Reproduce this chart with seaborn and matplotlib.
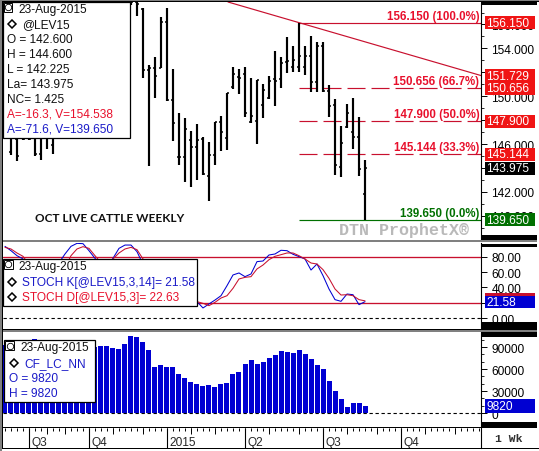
#!/usr/bin/env python3
# Oct live cattle weekly chart: price bars, stochastics and volume panels
import numpy as np
import pandas as pd
import matplotlib
matplotlib.use("Agg")
import matplotlib.pyplot as plt
from matplotlib.patches import Rectangle
import seaborn as sns

nan = np.nan

# price bars, one per week. nan = hidden behind the info box
high = [nan, 148, 148, 148, 148, 148, 148, 148, 148, nan, nan, nan, nan, nan, nan, nan, nan, nan, nan, nan, nan,
        158.5, 158.3, 157.35, 152.64, 153.26, 156.6, 157.35, 152.28, 148.6, 148.16, 147.07, 147.68, 146.57, 146.15,
        147.87, 148.32, 150.25, 152.47, 152.28, 152.42, 151.52, 151.36, 151.02, 151.72, 153.76, 153.26, 154.93,
        154.17, 156.15, 154.22, 155.06, 154.51, 154.51, 150.94, 149.77, 147.54, 149.35, 149.83, 148.24, 144.67]
low = [nan, 145.09, 144.59, 146.3, 146.3, 145.0, 144.7, 145.6, 145.17, nan, nan, nan, nan, nan, nan, nan, nan, nan, nan, nan, nan,
       157.63, 156.73, 151.55, 144.19, 149.83, 152.34, 149.58, 146.28, 144.28, 142.8, 142.39, 143.02, 143.41, 141.27,
       144.28, 145.45, 145.53, 150.6, 150.19, 148.24, 147.76, 146.0, 148.18, 149.77, 149.21, 150.66, 151.94,
       152.05, 152.05, 151.78, 150.33, 150.33, 150.33, 148.29, 143.44, 143.27, 147.34, 145.59, 143.36, 139.65]
open_ = [nan, 145.31, 146.4, 147, 147, 147, 145.2, 147, 145.9, nan, nan, nan, nan, nan, nan, nan, nan, nan, nan, nan, nan,
         158.2, 157.9, 157.3, 152.22, 152.34, 152.34, 156.23, 149.69, 144.89, 144.92, 146.37, 145.76, 146.43, 143.31,
         145.09, 147.82, 146.48, 150.75, 151.63, 151.86, 147.85, 147.95, 149.29, 149.85, 151.44, 151.44, 152.84,
         152.42, 152.42, 152.42, 153.34, 151.17, 154.18, 150.46, 149.27, 144.11, 147.4, 146.98, 146.62, 141.85]
close = [nan, 146.5, 145.0, 146.4, 146.4, 145.17, 146.5, 146.5, 147, nan, nan, nan, nan, nan, nan, nan, nan, nan, nan, nan, nan,
         157.9, 157.71, 152.22, 152.32, 151.67, 156.23, 149.71, 147.76, 144.92, 147.26, 145.76, 146.37, 143.5, 145.09,
         147.87, 146.98, 150.25, 151.86, 151.52, 148.6, 148.37, 151.36, 150.52, 151.3, 151.3, 152.78, 152.97,
         153.05, 153.34, 153.34, 151.17, 154.18, 150.46, 149.21, 144.25, 146.07, 148.6, 146.62, 143.92, 143.975]

stoch_k = [93.3, 87.7, 81.2, 77, 60, 50, 45, 45, 50, 72, 83.4, 93.3, 97.2, 96.8, 87.7, 77.8, 68, 66, 77.8, 90.7, 95,
           95, 86.4, 70, 60, 40, 30, 25, 25, 22, 20, 20, 21.6, 13.4, 18.6, 23.7, 29.3, 42.3, 56.2, 58.8, 54, 57.5,
           73.5, 74.3, 82.1, 83.4, 88.2, 87.7, 83, 80, 76.9, 62.6, 70.4, 55.3, 38, 24.2, 22, 31.5, 30.6, 17.7, 21.58]
stoch_d = [92, 89.9, 84.7, 80.4, 70, 60, 52, 47, 47, 52, 65, 81.2, 89.9, 92.9, 90.7, 81.2, 72, 68, 76.9, 84.7, 89.9,
           92, 89, 77, 68, 52, 40, 32, 28, 25, 22, 21, 21.6, 19.4, 16.4, 20.7, 26.3, 29.3, 38.9, 51, 53.1, 54,
           64, 69.1, 76, 80.4, 82.5, 84.7, 84.7, 81.2, 76.9, 71.7, 70.4, 63.1, 51.8, 38, 30.2, 30.6, 29.3, 24.2, 22.63]

volume = [93000, 85000, 85000, 90000, 90000, 101000, 95000, 90000, 85000, 85000, 85000, 85000, 85000, 85000, 85000, 90000,
          90900, 91850, 88700, 87300, 94600, 105500, 104100, 96850, 86400, 62750, 65900, 62300, 63200, 53650, 48200,
          42700, 40000, 37300, 38650, 35900, 40000, 41400, 53650, 56400, 67300, 72750, 67300, 70000, 75500, 79600,
          85000, 83700, 82300, 86400, 80900, 74100, 65900, 60500, 44100, 30500, 19550, 8640, 14100, 14100, 9820]

fib_levels = [156.15, 150.656, 147.9, 145.144, 139.65]
fib_labels = ["156.150 (100.0%)", "150.656 (66.7%)", "147.900 (50.0%)", "145.144 (33.3%)", "139.650 (0.0%)"]
trend_x = [37.17, 79.33]
trend_y = [157.88, 151.729]

quarter_pos = [4, 14, 27, 40, 53, 66]
quarter_labels = ["Q3", "Q4", "2015", "Q2", "Q3", "Q4"]
month_pos = [7, 10, 18, 23, 31, 35, 44, 49, 57, 62, 70, 75]

price_info = ["O = 142.600", "H = 144.600", "L = 142.225", "La= 143.975", "NC= 1.425"]

RED = "#c8102e"
TXT_RED = "#e8102c"
BLUE = "#0000d2"
TXT_BLUE = "#1a1ac8"
GREEN = "#007000"
GRAY = "#808080"
FS = 8.6

W, H = 539, 452
sns.set_style("white")
plt.rcParams["font.family"] = ["Liberation Sans", "DejaVu Sans"]
plt.rcParams["font.size"] = FS


def panel(top, bottom):
    # axes placed by pixel rows, all share the same horizontal extent
    a = fig.add_axes([3 / W, 1 - bottom / H, 478 / W, (bottom - top) / H])
    a.set_xlim(-0.33, 79.33)
    a.set_xticks([])
    for s in ["top", "left", "bottom"]:
        a.spines[s].set_visible(False)
    a.spines["right"].set_color("black")
    a.spines["right"].set_linewidth(0.8)
    a.set_xlabel("")
    a.set_ylabel("")
    return a


def right_ticks(a, major, labels, minor=None):
    a.yaxis.tick_right()
    a.set_yticks(major)
    a.set_yticklabels(labels)
    if minor is not None:
        a.set_yticks(minor, minor=True)
    a.tick_params(axis="y", which="major", right=True, length=4, width=0.7, pad=3.5, labelsize=FS, colors="black")
    a.tick_params(axis="y", which="minor", right=True, length=2, width=0.7)


def value_box(a, val, text, color, h_px=13):
    # coloured tag on the right scale, centred on the value
    y0, y1 = a.get_ylim()
    bbox = a.get_position()
    per_px = (y1 - y0) / (bbox.height * H)
    tr = a.get_yaxis_transform()
    xl = 1 + 4 / 478
    a.add_patch(Rectangle((xl, val - h_px / 2 * per_px), 49.5 / 478, h_px * per_px, transform=tr,
                          facecolor=color, edgecolor="none", clip_on=False, zorder=6))
    if text:
        a.text(xl + 1.5 / 478, val, text, transform=tr, color="white", fontsize=FS, va="center", ha="left",
               clip_on=False, zorder=7)


fig = plt.figure(figsize=(W / 100, H / 100), dpi=100)

# price panel
ax = panel(3, 240)
ax.set_ylim(138.06, 157.88)
xs = np.arange(len(high))
ax.vlines(xs, low, high, color="black", lw=1.55, zorder=3)
ax.hlines(open_, xs - 0.38, xs, color="black", lw=1.1, zorder=3)
ax.hlines(close, xs, xs + 0.38, color="black", lw=1.1, zorder=3)
ax.plot(trend_x, trend_y, color=RED, lw=0.85, zorder=2)
fib_start = 49
ax.hlines(fib_levels[0], fib_start, 79.33, color=RED, lw=0.85)
for lv in fib_levels[1:4]:
    ax.plot([fib_start, 79.33], [lv, lv], color=RED, lw=0.85, dashes=(18 / 1.18, 6 / 1.18), zorder=2)
ax.hlines(fib_levels[4], fib_start, 79.33, color=GREEN, lw=0.85)
for lv, lab in zip(fib_levels, fib_labels):
    ax.annotate(lab, (79.33, lv), xytext=(-1.2, 5.0), textcoords="offset points", ha="right", va="center",
                fontsize=8.3, fontweight="bold", color=GREEN if lv == fib_levels[4] else TXT_RED)
right_ticks(ax, np.arange(140, 157, 2), [f"{v:.3f}" for v in np.arange(140, 157, 2)], np.arange(139, 158, 1))
value_box(ax, fib_levels[0], f"{fib_levels[0]:.3f}", "#f01414")
value_box(ax, trend_y[1], f"{trend_y[1]:.3f}", "#f01414")
for lv in fib_levels[1:4]:
    value_box(ax, lv, f"{lv:.3f}", "#f01414")
value_box(ax, close[-1], f"{close[-1]:.3f}", "black")
value_box(ax, fib_levels[4], f"{fib_levels[4]:.3f}", GREEN)

# stochastics panel
ax2 = panel(243.5, 330)
stoch_df = pd.DataFrame({"week": xs, "k": stoch_k, "d": stoch_d})
sns.lineplot(data=stoch_df, x="week", y="k", color=BLUE, lw=0.75, ax=ax2, zorder=3)
sns.lineplot(data=stoch_df, x="week", y="d", color=RED, lw=0.75, ax=ax2, zorder=3)
ax2.set_xlim(-0.33, 79.33)
ax2.set_xticks([])
ax2.set_ylim(-13.88, 98.3)
ax2.set_xlabel("")
ax2.set_ylabel("")
ax2.axhline(80, color=RED, lw=0.95, zorder=2)
ax2.axhline(20, color=RED, lw=0.95, zorder=2)
ax2.axhline(0, color="black", lw=0.8, dashes=(3, 2.4))
right_ticks(ax2, [0, 20, 40, 60, 80], ["0.00", "20.00", "40.00", "60.00", "80.00"])
value_box(ax2, stoch_d[-1] + 1, "", RED, h_px=14)
value_box(ax2, stoch_k[-1], "21.58", BLUE, h_px=12)

# volume panel
ax3 = panel(332.5, 427.5)
vol_df = pd.DataFrame({"week": xs, "volume": volume})
sns.barplot(data=vol_df, x="week", y="volume", native_scale=True, color=BLUE, saturation=1, width=5 / 6,
            edgecolor="none", linewidth=0, ax=ax3, zorder=3)
ax3.set_xlim(-0.33, 79.33)
ax3.set_xticks([])
ax3.set_ylim(-18140, 111200)
ax3.set_xlabel("")
ax3.set_ylabel("")
ax3.axhline(0, color="black", lw=0.8, dashes=(3, 2.4))
right_ticks(ax3, [0, 30000, 60000, 90000], ["0", "30000", "60000", "90000"], np.arange(0, 110000, 10000))
value_box(ax3, volume[-1], "9820", BLUE, h_px=14)

# date strip
ax4 = panel(428.5, 449)
ax4.set_ylim(0, 1)
ax4.set_yticks([])
ax4.vlines(np.arange(0, 80), 0.85, 1, color="black", lw=0.7)
ax4.vlines(month_pos, 0.68, 1, color="black", lw=0.7)
ax4.vlines(quarter_pos, 0, 1, color="black", lw=0.8)
for q, lab in zip(quarter_pos, quarter_labels):
    ax4.text(q + 0.42, 0.28, lab, va="center", ha="left", fontsize=FS)

# overlay in pixel rows for frame, separators and info boxes
ov = fig.add_axes([0, 0, 1, 1], zorder=10)
ov.set_xlim(0, W)
ov.set_ylim(H, 0)
ov.axis("off")
ov.patch.set_alpha(0)


def rect(x0, y0, x1, y1, fc="white", ec="none", lw=0.0, z=2):
    ov.add_patch(Rectangle((x0, y0), x1 - x0, y1 - y0, facecolor=fc, edgecolor=ec, linewidth=lw, zorder=z))


# outer frame
rect(0, 0, W, 2, fc=GRAY)
rect(0, 0, 2, H, fc=GRAY)
rect(2, 2, 3, 450, fc="black")
rect(2, 2, W, 3, fc="black")
rect(3, 449, W, 450, fc="black")

# panel separators and black bands in the scale column
for top, bot in [(240.5, 243), (330, 332.5)]:
    rect(3, top, W - 2, top + 0.8, fc="black")
    rect(3, top + 0.8, W - 2, bot, fc=GRAY)
rect(3, 427.8, W - 2, 428.6, fc="black")
for top, bot in [(3, 6), (236, 240.5), (245, 248), (323, 330), (333, 338), (423, 427.8)]:
    rect(481, top, W - 2, bot, fc="black")
rect(481, 428, 481.8, 449, fc="black")

ov.text(495, 439, "1 Wk", family=["Liberation Mono", "DejaVu Sans Mono"], fontsize=8.2, fontweight="bold",
        va="center", ha="left", color="#303030")
ov.text(339, 230.5, "DTN ProphetX\u00ae", family=["Liberation Mono", "DejaVu Sans Mono"], fontsize=12, fontweight="bold",
        color="#b9b9b9", va="center", ha="left")
ov.text(35, 219, "OCT LIVE CATTLE WEEKLY", family=["Lato", "DejaVu Sans"], fontweight="bold", fontsize=8.45,
        color="#101010", va="center", ha="left")


def info_box(x0, y0, x1, y1, date_x, rows):
    rect(x0, y0, x1, y1, fc="white", ec="black", lw=0.9, z=4)
    # little clock icon in the corner
    rect(x0 + 1, y0 + 1, x0 + 9.5, y0 + 9.5, fc="white", ec="black", lw=0.7, z=5)
    ov.plot([x0 + 5.2], [y0 + 5.2], marker="o", ms=4.6, mfc="none", mec="black", mew=0.6, zorder=6)
    ov.text(date_x, y0 + 6.7, "23-Aug-2015", fontsize=FS, va="center", ha="left", color="#101010", zorder=6)
    for lab, tx, ty, col, dia in rows:
        if dia is not None:
            ov.plot([dia], [ty], marker="D", ms=4.2, mfc="white", mec="black", mew=1.1, zorder=6)
        ov.text(tx, ty, lab, fontsize=FS, va="center", ha="left", color=col, zorder=6)


rows = [("@LEV15", 22.3, 24.7, "#101010", 11.5)]
for i, lab in enumerate(price_info):
    rows.append((lab, 7.3, 39.7 + 15 * i, "#101010", None))
rows.append(("A=-16.3, V=154.538", 7.3, 114.7, TXT_RED, None))
rows.append(("A=-71.6, V=139.650", 7.3, 129.7, TXT_BLUE, None))
info_box(2.8, 3, 129.5, 139, 18, rows)

info_box(3, 260, 197.3, 307, 18.3, [
    ("STOCH K[@LEV15,3,14]= 21.58", 22.3, 282.7, TXT_BLUE, 11.5),
    ("STOCH D[@LEV15,3]= 22.63", 22.3, 297.7, TXT_RED, 11.5),
])

info_box(4.3, 341.3, 95.3, 403.3, 20, [
    ("CF_LC_NN", 24.3, 363.7, TXT_BLUE, 13.8),
    ("O = 9820", 9.3, 378.7, TXT_BLUE, None),
    ("H = 9820", 9.3, 393.7, TXT_BLUE, None),
])

fig.savefig("out.png", dpi=100)
